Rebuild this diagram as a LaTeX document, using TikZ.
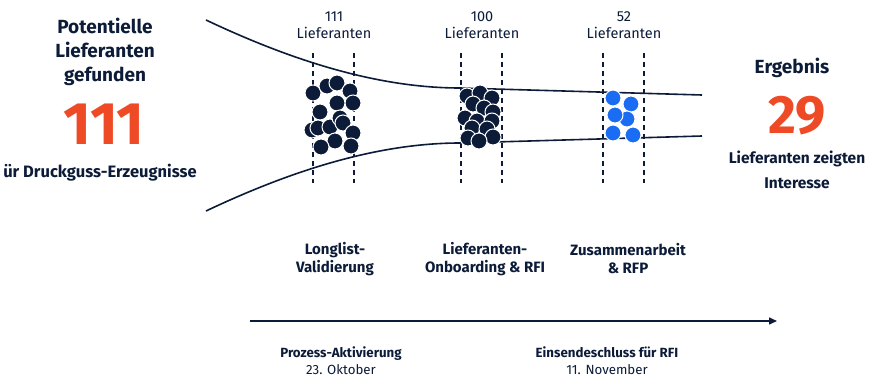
\documentclass[tikz,border=0pt]{standalone}
\usepackage{fontspec}
\setmainfont{Fira Sans}
\usetikzlibrary{arrows.meta}
\definecolor{navy}{HTML}{0C1B38}
\definecolor{signal}{HTML}{EF4A26}
\definecolor{azure}{HTML}{1A6DF3}

\begin{document}
\begin{tikzpicture}
  [x=1pt,y=-1pt,
   title/.style={font=\bfseries\fontsize{19}{24}\selectfont,text=navy,align=center},
   bignum/.style={font=\bfseries\fontsize{54}{60}\selectfont,text=signal,inner sep=0},
   note/.style={font=\bfseries\fontsize{16.5}{18}\selectfont,text=navy,align=center},
   result/.style={font=\bfseries\fontsize{15.5}{25}\selectfont,text=navy,align=center},
   count/.style={font=\fontsize{14.5}{17}\selectfont,text=navy,align=center},
   stage/.style={font=\bfseries\fontsize{15}{18}\selectfont,text=navy,align=center},
   date/.style={font=\fontsize{13.3}{17}\selectfont,text=navy,align=center},
   funnel/.style={draw=navy,line width=1.6pt},
   gate/.style={draw=navy,line width=1.5pt,dash pattern=on 5pt off 4pt},
   lead/.style={circle,fill=navy,draw=white,line width=1pt,minimum size=16pt,inner sep=0},
   hit/.style={circle,fill=azure,draw=white,line width=1pt,minimum size=16pt,inner sep=0}]
  \useasboundingbox (0,0) rectangle (870,378);
%  left summary
  \node[title] (found) at (105,52) {Potentielle\\Lieferanten\\gefunden};
  \node[bignum,font=\bfseries\fontsize{60}{60}\selectfont] (foundnum) at (104,124) {111};
  \node[note] (scope) at (100,173) {ür Druckguss-Erzeugnisse};
%  right summary
  \node[title] (result) at (792,68) {Ergebnis};
  \node[bignum] (resultnum) at (797,116) {29};
  \node[result] (interest) at (797,170) {Lieferanten zeigten\\Interesse};
%  funnel
  \draw[funnel] (206,20) .. controls (280,55) and (370,88) .. (460,88) -- (702,95);
  \draw[funnel] (206,211) .. controls (280,176) and (370,143) .. (460,143) -- (702,136);
%  gates and counts
  \foreach \x/\n/\lbl in {313/111/long,461/100/onb,603/52/rfp}{
    \draw[gate] (\x,53) -- (\x,183);
    \draw[gate] (\x+41,53) -- (\x+41,183);
    \node[count] (count-\lbl) at (\x+21,25.5) {\n\\Lieferanten};
  }
  \node[stage] (long) at (335,259) {Longlist-\\Validierung};
  \node[stage] (onb) at (485,259) {Lieferanten-\\Onboarding \& RFI};
  \node[stage] (rfp) at (628,259) {Zusammenarbeit\\\& RFP};
%  suppliers
  \foreach \p [count=\i] in {(313,93),(327,86),(337,83),(350,91),(353,103),(337,103),
      (320,112),(312,130),(318,128),(330,127),(340,118),(343,123),(353,133),(335,141),
      (321,147),(351,146)}
    \node[lead] (a\i) at \p {};
  \foreach \p [count=\i] in {(467,96),(480,93),(492,98),(473,104),(484,108),(493,112),
      (465,118),(477,121),(492,121),(472,128),(487,129),(468,138),(493,137),(479,141)}
    \node[lead] (b\i) at \p {};
  \foreach \p [count=\i] in {(613,98),(631,104),(627,119),(615,115),(613,133),(633,135)}
    \node[hit] (c\i) at \p {};
%  timeline
  \coordinate (start) at (250,321);
  \coordinate (end) at (777,321);
  \draw[navy,line width=1.5pt,-{Triangle[length=8pt,width=7pt]}] (start) -- (end);
  \node[date] (activation) at (341,360.5) {\textbf{Prozess-Aktivierung}\\23. Oktober};
  \node[date] (deadline) at (607,360.5) {\textbf{Einsendeschluss für RFI}\\11. November};
\end{tikzpicture}
\end{document}
